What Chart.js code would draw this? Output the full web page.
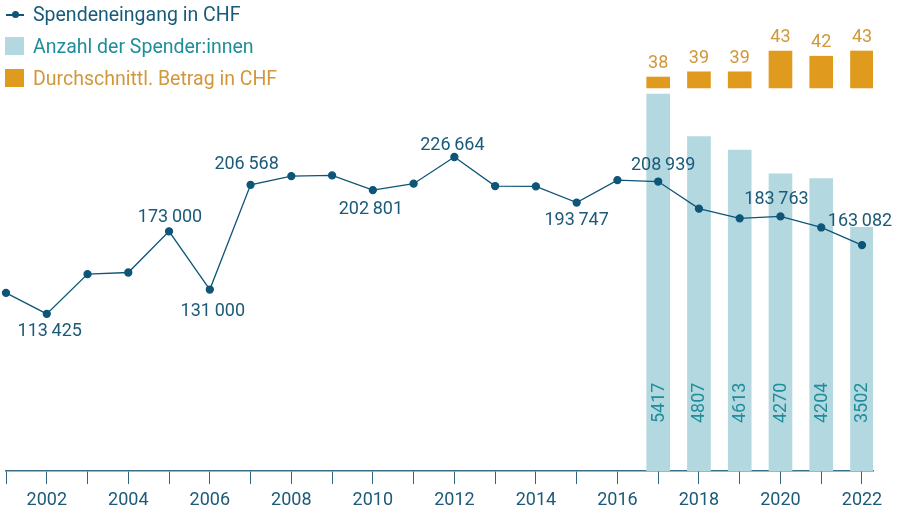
<!DOCTYPE html>
<html>
<head>
<meta charset="utf-8">
<script src="https://cdn.jsdelivr.net/npm/chart.js@4/dist/chart.umd.min.js"></script>
<style>
  body { margin: 0; background: #fff; }
  #wrap { position: relative; width: 902px; height: 512px; }
  #legend { position: absolute; left: 0; top: 0; font: 19.5px Roboto, sans-serif; }
  .item { position: absolute; left: 33px; white-space: nowrap; line-height: 20px; }
  .sym { position: absolute; }
</style>
</head>
<body>
<div id="wrap">
  <canvas id="chart" width="902" height="512"></canvas>
  <div id="legend">
    <div class="sym" style="left:6px;top:14px;width:18px;height:1.5px;background:#0d5677"></div>
    <div class="sym" style="left:12px;top:11px;width:7px;height:7px;border-radius:50%;background:#0d5677"></div>
    <div class="item" style="top:5px;color:#175b7a">Spendeneingang in CHF</div>
    <div class="sym" style="left:5px;top:37px;width:19px;height:18px;background:#b4d8e0"></div>
    <div class="item" style="top:37px;color:#1f8e9b">Anzahl der Spender:innen</div>
    <div class="sym" style="left:5px;top:69px;width:19px;height:18px;background:#e09b1f"></div>
    <div class="item" style="top:69px;color:#d1973a">Durchschnittl. Betrag in CHF</div>
  </div>
</div>
<script>
var years = [2001, 2002, 2003, 2004, 2005, 2006, 2007, 2008, 2009, 2010, 2011,
             2012, 2013, 2014, 2015, 2016, 2017, 2018, 2019, 2020, 2021, 2022];
var donations = [128600, 113425, 142100, 143300, 173000, 131000, 206568, 212900, 213400, 202801, 207400,
                 226664, 205700, 205500, 193747, 210000, 208939, 189400, 182400, 183763, 175800, 163082];

var barYears = [2017, 2018, 2019, 2020, 2021, 2022];
var donors = [5417, 4807, 4613, 4270, 4204, 3502];
var avgAmount = [38, 39, 39, 43, 42, 43];

var yearLabels = [2002, 2004, 2006, 2008, 2010, 2012, 2014, 2016, 2018, 2020, 2022];

function fmt(v) {
	return String(v).replace(/\B(?=(\d{3})+(?!\d))/g, "\u2009");
}

// labels drawn on the line points and bars
var valueLabels = {
	id: "valueLabels",
	afterDatasetsDraw: function(chart, args, opts) {
		var ctx = chart.ctx;
		ctx.save();
		ctx.font = "18px Roboto";
		ctx.textAlign = "center";
		ctx.textBaseline = "middle";

		// Spendeneingang
		ctx.fillStyle = "#1b5a78";
		chart.getDatasetMeta(0).data.forEach(function(pt, i) {
			var off = opts.lineOffsets[years[i]];
			if (!off) return;
			ctx.fillText(fmt(donations[i]), pt.x + off[0], pt.y + off[1]);
		});

		// Anzahl, rotated inside the bars
		ctx.fillStyle = "#1f8e9b";
		ctx.textAlign = "left";
		chart.getDatasetMeta(1).data.forEach(function(bar, i) {
			ctx.save();
			ctx.translate(bar.x, chart.chartArea.bottom - 48);
			ctx.rotate(-Math.PI / 2);
			ctx.fillText(String(donors[i]), 0, 1);
			ctx.restore();
		});

		// Durchschnitt
		ctx.fillStyle = "#d1973a";
		ctx.textAlign = "center";
		ctx.textBaseline = "alphabetic";
		chart.getDatasetMeta(2).data.forEach(function(bar, i) {
			ctx.fillText(String(avgAmount[i]), bar.x, bar.y - 9);
		});
		ctx.restore();
	}
};

var ctx = document.getElementById("chart");

var data = {
	datasets: [
		{
			type: "line",
			label: "Spendeneingang in CHF",
			data: years.map(function(y, i) { return { x: y, y: donations[i] }; }),
			borderColor: "#0d5677",
			backgroundColor: "#0d5677",
			borderWidth: 1.3,
			pointRadius: 3.5,
			pointHoverRadius: 3.5,
			tension: 0,
			clip: false,
			yAxisID: "yLine",
			order: 0
		},
		{
			type: "bar",
			label: "Anzahl der Spender:innen",
			data: barYears.map(function(y, i) { return { x: y, y: donors[i] }; }),
			backgroundColor: "#b4d8e0",
			barThickness: 23,
			grouped: false,
			yAxisID: "yCount",
			order: 2
		},
		{
			type: "bar",
			label: "Durchschnittl. Betrag in CHF",
			data: barYears.map(function(y, i) { return { x: y, y: avgAmount[i] }; }),
			backgroundColor: "#e09b1f",
			barThickness: 23,
			grouped: false,
			base: 35.9,
			yAxisID: "yAvg",
			order: 1
		}
	]
};

var options = {
	responsive: false,
	animation: false,
	layout: { autoPadding: false, padding: { left: 5, right: 29, top: 0, bottom: 0 } },
	plugins: {
		legend: { display: false },
		tooltip: { enabled: false },
		valueLabels: {
			lineOffsets: {
				2002: [3, 18],
				2005: [1, -14],
				2006: [3, 22],
				2007: [-4, -20],
				2010: [-2, 19],
				2012: [-2, -12],
				2015: [0, 18],
				2017: [5, -16],
				2020: [-4, -17],
				2022: [-2, -24]
			}
		}
	},
	scales: {
		x: {
			type: "linear",
			offset: false,
			min: 2001,
			max: 2022.27,
			ticks: {
				autoSkip: false,
				maxRotation: 0,
				padding: 6,
				color: "#1b5a78",
				font: { size: 18, family: "Roboto" },
				callback: function(v) { return yearLabels.indexOf(v) >= 0 ? String(v) : ""; }
			},
			afterBuildTicks: function(scale) {
				scale.ticks = years.map(function(y) { return { value: y }; });
			},
			afterFit: function(scale) {
				scale.height = 41;
			},
			grid: {
				offset: false,
				drawOnChartArea: false,
				tickLength: 13,
				color: "#2f6580",
				lineWidth: 1
			},
			border: { color: "#3a7189", width: 1.5 }
		},
		yLine: { display: false, min: 0, max: 340000 },
		yCount: { display: false, min: 0, max: 6770 },
		yAvg: { display: false, min: -37.77, max: 52.81 }
	}
};

Chart.defaults.font.family = "Roboto";

var chart = new Chart(ctx, {
	data: data,
	options: options,
	plugins: [valueLabels]
});
</script>
</body>
</html>
